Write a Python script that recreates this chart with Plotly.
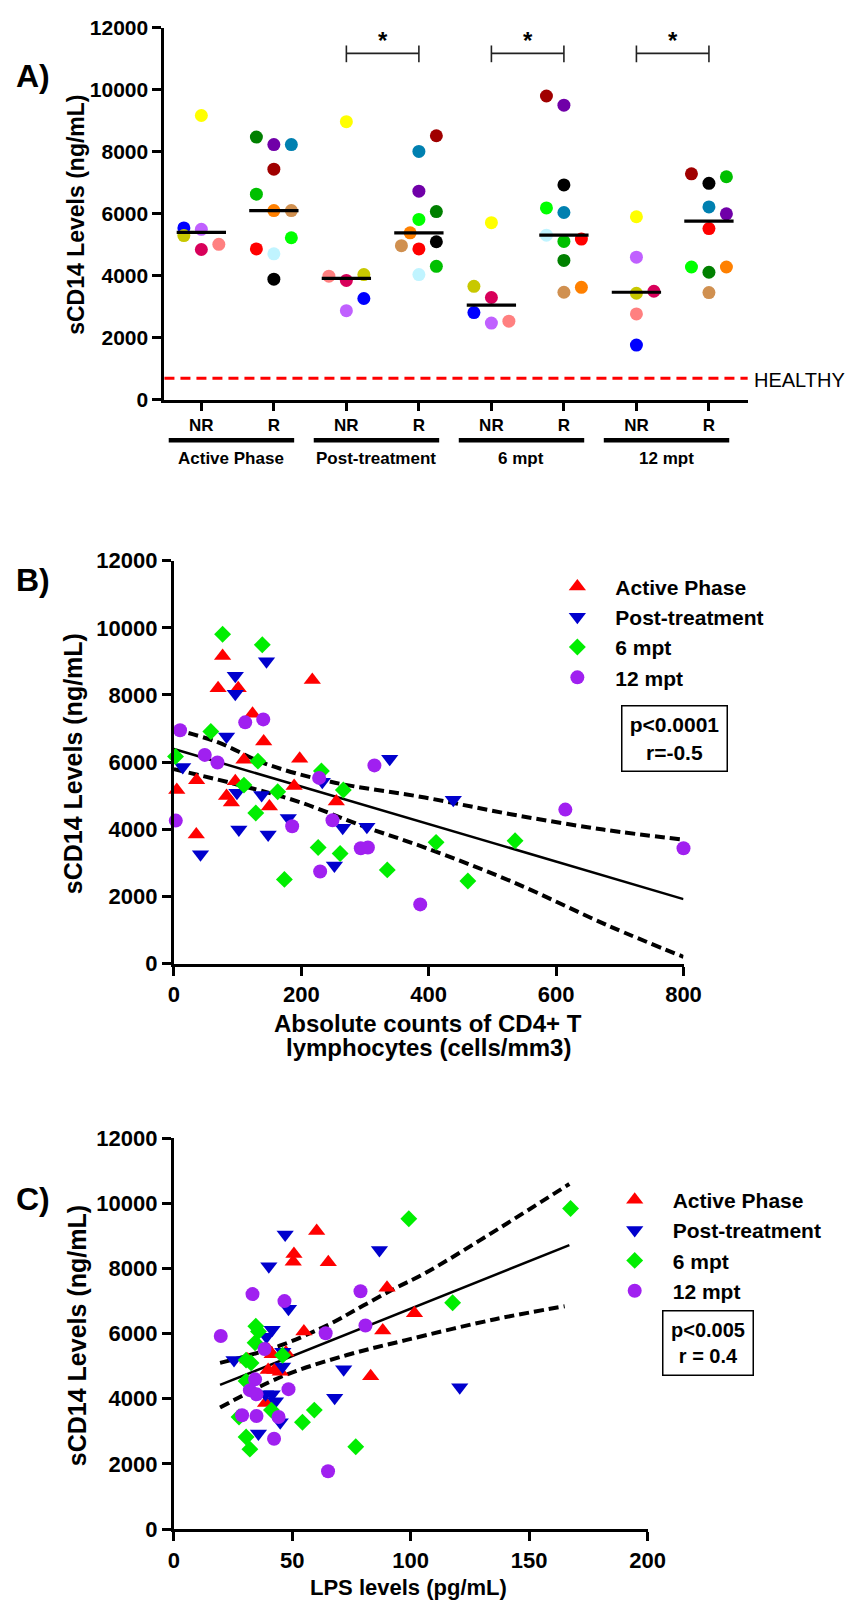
import plotly.graph_objects as go
import numpy as np

W, H = 858, 1616
FONT = "Liberation Sans, Arial, sans-serif"


def PX(x):
    return x / W


def PY(y):
    return 1 - y / H


# ---------------- Panel A data ----------------
groups = ["Active Phase", "Post-treatment", "6 mpt", "12 mpt"]
responses = ["NR", "R"]
healthy_level = 700
sig_pairs = [(2, 3), (4, 5), (6, 7)]

palette = {
    "yellow": "#ffff00", "blue": "#0000ff", "olive": "#c8c800", "lilac": "#c060ff",
    "crimson": "#d8005a", "salmon": "#ff8080", "dkgreen": "#008000", "purple": "#7000a8",
    "teal": "#0080b0", "dkred": "#a00000", "green": "#00c000", "lime": "#00ff00",
    "orange": "#ff8000", "tan": "#d09050", "red": "#ff0000", "ltcyan": "#c0f4ff",
    "black": "#000000",
}

active_nr_vals = [9170, 5545, 5300, 5500, 4850, 5015]
active_nr_cols = ["yellow", "blue", "olive", "lilac", "crimson", "salmon"]
active_nr_pos = [0, -1, -1, 0, 0, 1]

active_r_vals = [8476, 8233, 8233, 7440, 6635, 6106, 6106, 5228, 4868, 4709, 3894]
active_r_cols = ["dkgreen", "purple", "teal", "dkred", "green", "orange", "tan", "lime", "red", "ltcyan", "black"]
active_r_pos = [-1, 0, 1, 0, -1, 0, 1, 1, -1, 0, 0]

post_nr_vals = [8973, 3989, 3852, 4042, 3270, 2878]
post_nr_cols = ["yellow", "salmon", "crimson", "olive", "blue", "lilac"]
post_nr_pos = [0, -1, 0, 1, 1, 0]

post_r_vals = [8518, 8011, 6730, 6074, 5820, 5386, 4973, 4868, 5100, 4307, 4042]
post_r_cols = ["dkred", "teal", "purple", "dkgreen", "lime", "orange", "tan", "red", "black", "green", "ltcyan"]
post_r_pos = [1, 0, 0, 1, 0, -0.5, -1, 0, 1, 1, 0]

m6_nr_vals = [5714, 3661, 3302, 2815, 2476, 2540]
m6_nr_cols = ["yellow", "olive", "crimson", "blue", "lilac", "salmon"]
m6_nr_pos = [0, -1, 0, -1, 0, 1]

m6_r_vals = [9799, 9503, 6931, 6190, 6042, 5312, 5111, 5185, 4497, 3471, 3630]
m6_r_cols = ["dkred", "purple", "black", "lime", "teal", "ltcyan", "green", "red", "dkgreen", "tan", "orange"]
m6_r_pos = [-1, 0, 0, -1, 0, -1, 0, 1, 0, 0, 1]

m12_nr_vals = [5905, 4603, 3439, 3503, 2772, 1767]
m12_nr_cols = ["yellow", "lilac", "olive", "crimson", "salmon", "blue"]
m12_nr_pos = [0, 0, 0, 1, 0, 0]

m12_r_vals = [7291, 6984, 7196, 6222, 6000, 5524, 4286, 4116, 4286, 3460]
m12_r_cols = ["dkred", "black", "green", "teal", "purple", "red", "lime", "dkgreen", "orange", "tan"]
m12_r_pos = [-1, 0, 1, 0, 1, 0, -1, 0, 1, 0]

# ---------------- Panel B data ----------------
series_names = ["Active Phase", "Post-treatment", "6 mpt", "12 mpt"]

bx_active = [4.6, 35.7, 35.2, 69.4, 76.5, 101, 123.5, 141, 110, 96.4, 82.7, 90.3, 150, 197.5, 188.8, 217.3, 255]
by_active = [5168, 5462, 3847, 8202, 9162, 8202, 7439, 6617, 6069, 5432, 4992, 4796, 4679, 6098, 5286, 8447, 4826]
bx_post = [13.8, 41.8, 82.7, 96.4, 96.4, 102, 99, 137.8, 145.4, 148, 179.6, 233, 252, 265, 303, 338.8, 438.6]
by_post = [5853, 3259, 6764, 8574, 8036, 3993, 5090, 5021, 9005, 3847, 4336, 5413, 2917, 4042, 4072, 6098, 4879]
bx_6 = [2.6, 58, 76.5, 110, 128.6, 132, 138.8, 163, 173.5, 226.5, 231.6, 261, 266, 335, 411.6, 461.5, 535.6]
by_6 = [6166, 6910, 9808, 5315, 4483, 6029, 9494, 5119, 2506, 3455, 5736, 3279, 5168, 2790, 3610, 2457, 3657]
bx_12 = [9.7, 3, 48.5, 68.4, 112, 140.3, 185.7, 228, 229.6, 249, 293.4, 304.6, 314.8, 386.7, 614.5, 800]
by_12 = [6949, 4258, 6215, 5990, 7184, 7273, 4091, 5530, 2740, 4268, 3436, 3455, 5902, 1762, 4586, 3434]

fitB_x = [0, 800]
fitB_y = [6390, 1920]
bandB_up_x = [0, 67, 144, 246, 394, 531, 674, 800]
bandB_up_y = [6980, 6607, 5951, 5413, 4945, 4440, 3990, 3690]
bandB_lo_x = [0, 93, 195, 297, 394, 531, 684, 800]
bandB_lo_y = [5790, 5364, 4825, 4091, 3455, 2438, 1110, 200]

# ---------------- Panel C data ----------------
cx_active = [60.3, 50.7, 50.4, 65.2, 90, 101.6, 54.9, 88.2, 83.1, 41.5, 39.8, 42.6, 44.9, 47.3, 38.7, 31.2, 40]
cy_active = [9150, 8443, 8207, 8186, 7403, 6621, 6064, 6096, 4693, 5368, 4886, 4886, 4832, 5421, 3868, 5207, 5500]
cx_post = [47, 40.1, 86.8, 48.4, 41.5, 39.1, 25.4, 71.7, 67.9, 45.9, 38.7, 41.5, 42.9, 35.7, 44.9, 120.7, 46]
cy_post = [9043, 8068, 8561, 6760, 6118, 5904, 5186, 4907, 4028, 4993, 4136, 4136, 3921, 2936, 3278, 4350, 5440]
cx_6 = [99.2, 167.5, 117.7, 34.6, 35.7, 34.3, 30.5, 32.6, 45.9, 30.5, 41.2, 27.5, 59.3, 54.3, 30.5, 32.1, 76.8]
cy_6 = [9525, 9839, 6945, 6225, 6064, 5721, 5186, 5100, 5336, 4543, 3653, 3439, 3653, 3278, 2829, 2454, 2529]
cx_12 = [19.8, 33.2, 46.7, 78.8, 80.9, 64.1, 38.3, 34.3, 32.1, 34.9, 48.4, 28.8, 34.9, 44.2, 42.3, 65.1]
cy_12 = [5925, 7211, 6996, 7297, 6246, 6011, 5528, 4596, 4264, 4136, 4296, 3493, 3471, 3439, 2775, 1779]

fitC_x = [19.5, 167]
fitC_y = [4425, 8714]
bandC_up_x = [19.5, 30, 45.6, 66, 80, 93.7, 106, 129, 167]
bandC_up_y = [5100, 5300, 5650, 6300, 6860, 7400, 7850, 8852, 10590]
bandC_lo_x = [19.5, 45.6, 73.1, 97.9, 135.7, 165]
bandC_lo_y = [3729, 4683, 5342, 5798, 6441, 6839]

# ---------------- Build figure ----------------
fig = go.Figure()

panelA = [
    (active_nr_vals, active_nr_cols, active_nr_pos),
    (active_r_vals, active_r_cols, active_r_pos),
    (post_nr_vals, post_nr_cols, post_nr_pos),
    (post_r_vals, post_r_cols, post_r_pos),
    (m6_nr_vals, m6_nr_cols, m6_nr_pos),
    (m6_r_vals, m6_r_cols, m6_r_pos),
    (m12_nr_vals, m12_nr_cols, m12_nr_pos),
    (m12_r_vals, m12_r_cols, m12_r_pos),
]
JIT = 0.241
for i, (vals, cols, pos) in enumerate(panelA):
    fig.add_trace(go.Scatter(
        x=[i + p * JIT for p in pos], y=vals, mode="markers",
        marker=dict(size=13, color=[palette[c] for c in cols], line=dict(width=0)),
        xaxis="x", yaxis="y", showlegend=False, cliponaxis=False, hoverinfo="skip"))
for i, (vals, cols, pos) in enumerate(panelA):
    med = float(np.median(vals))
    fig.add_trace(go.Scatter(
        x=[i - 0.34, i + 0.34], y=[med, med], mode="lines",
        line=dict(color="black", width=3.2), xaxis="x", yaxis="y",
        showlegend=False, hoverinfo="skip"))

# healthy line
fig.add_shape(type="line", xref="x domain", yref="y", x0=0, x1=1,
              y0=healthy_level, y1=healthy_level,
              line=dict(color="#ff0000", width=3, dash="10px,6px"))
fig.add_annotation(x=PX(767), y=PY(374), xref="paper", yref="paper", text="HEALTHY",
                   showarrow=False, xanchor="left", yanchor="middle",
                   font=dict(family=FONT, size=20, color="black"))

# significance brackets
for a, b in sig_pairs:
    br = dict(color="#222222", width=1.6)
    fig.add_shape(type="line", xref="x", yref="paper", x0=a, x1=b, y0=PY(42), y1=PY(42), line=br)
    fig.add_shape(type="line", xref="x", yref="paper", x0=a, x1=a, y0=PY(34), y1=PY(51), line=br)
    fig.add_shape(type="line", xref="x", yref="paper", x0=b, x1=b, y0=PY(34), y1=PY(51), line=br)
    fig.add_annotation(x=(a + b) / 2, y=PY(29), xref="x", yref="paper", text="*",
                       showarrow=False, yanchor="middle",
                       font=dict(family=FONT, size=24, color="black", weight="bold"))

# group bars and labels
for g, name in enumerate(groups):
    x0, x1 = 2 * g - 0.45, 2 * g + 1.28
    fig.add_shape(type="line", xref="x", yref="paper", x0=x0, x1=x1, y0=PY(435), y1=PY(435),
                  line=dict(color="black", width=4.5))
    fig.add_annotation(x=(x0 + x1) / 2, y=PY(454), xref="x", yref="paper", text=name,
                       showarrow=False, yanchor="middle",
                       font=dict(family=FONT, size=17, color="black", weight="bold"))

# ---------- Panel B & C scatter ----------
sym = ["triangle-up", "triangle-down", "diamond", "circle"]
colsBC = ["#ff0000", "#0000cd", "#00ee00", "#a020f0"]
sizesB = [15, 15, 13, 14]
sizesC = [15, 15, 13, 14]

B_sets = [(bx_active, by_active), (bx_post, by_post), (bx_6, by_6), (bx_12, by_12)]
C_sets = [(cx_active, cy_active), (cx_post, cy_post), (cx_6, cy_6), (cx_12, cy_12)]

dash = "10px,5px"
for (fx, fy, ux, uy, lx, ly, xa, ya) in [
        (fitB_x, fitB_y, bandB_up_x, bandB_up_y, bandB_lo_x, bandB_lo_y, "x2", "y2"),
        (fitC_x, fitC_y, bandC_up_x, bandC_up_y, bandC_lo_x, bandC_lo_y, "x3", "y3")]:
    fig.add_trace(go.Scatter(x=fx, y=fy, mode="lines", line=dict(color="black", width=2.5),
                             xaxis=xa, yaxis=ya, showlegend=False, hoverinfo="skip"))
    fig.add_trace(go.Scatter(x=ux, y=uy, mode="lines",
                             line=dict(color="black", width=4, dash=dash, shape="spline"),
                             xaxis=xa, yaxis=ya, showlegend=False, hoverinfo="skip"))
    fig.add_trace(go.Scatter(x=lx, y=ly, mode="lines",
                             line=dict(color="black", width=4, dash=dash, shape="spline"),
                             xaxis=xa, yaxis=ya, showlegend=False, hoverinfo="skip"))

for k in range(4):
    fig.add_trace(go.Scatter(
        x=B_sets[k][0], y=B_sets[k][1], mode="markers", name=series_names[k],
        marker=dict(symbol=sym[k], size=sizesB[k], color=colsBC[k], line=dict(width=0)),
        xaxis="x2", yaxis="y2", legend="legend", cliponaxis=False, hoverinfo="skip"))
for k in range(4):
    fig.add_trace(go.Scatter(
        x=C_sets[k][0], y=C_sets[k][1], mode="markers", name=series_names[k],
        marker=dict(symbol=sym[k], size=sizesC[k], color=colsBC[k], line=dict(width=0)),
        xaxis="x3", yaxis="y3", legend="legend2", cliponaxis=False, hoverinfo="skip"))

# ---------- Axes ----------
def axis(size=22, **kw):
    base = dict(showline=True, linewidth=3, linecolor="black", ticks="outside", ticklen=9,
                tickwidth=3, tickcolor="black", showgrid=False, zeroline=False,
                tickformat="d",
                tickfont=dict(family=FONT, size=size, color="black", weight="bold"))
    base.update(kw)
    return base

fig.update_layout(
    width=W, height=H, margin=dict(l=0, r=0, t=0, b=0),
    paper_bgcolor="white", plot_bgcolor="white",
    font=dict(family=FONT, color="black"),
    xaxis=axis(size=17, domain=[PX(163), PX(763)], range=[-0.509, 7.534], tickvals=list(range(8)),
               ticktext=responses * 4, anchor="y", ticklen=8),
    yaxis=axis(size=21, domain=[PY(394), PY(16)], range=[0, 12000], dtick=2000, anchor="x"),
    xaxis2=axis(domain=[PX(172.7), PX(697)], range=[0, 800], dtick=200, anchor="y2"),
    yaxis2=axis(domain=[PY(966.5), PY(557.3)], range=[0, 12000], dtick=2000, anchor="x2"),
    xaxis3=axis(domain=[PX(172.7), PX(660)], range=[0, 200], dtick=50, anchor="y3"),
    yaxis3=axis(domain=[PY(1541), PY(1143.7)], range=[0, 12000], dtick=2000, anchor="x3"),
    legend=dict(x=PX(548.7), y=PY(563), xanchor="left", yanchor="top", itemwidth=66,
                bgcolor="rgba(0,0,0,0)", font=dict(family=FONT, size=21, color="black", weight="bold")),
    legend2=dict(x=PX(607.7), y=PY(1186), xanchor="left", yanchor="top", itemwidth=66,
                 bgcolor="rgba(0,0,0,0)", font=dict(family=FONT, size=21, color="black", weight="bold")),
)

# ---------- Text annotations ----------
def ann(x, y, text, size, angle=0, bold=True, **kw):
    f = dict(family=FONT, size=size, color="black")
    if bold:
        f["weight"] = "bold"
    fig.add_annotation(x=PX(x), y=PY(y), xref="paper", yref="paper", text=text, showarrow=False,
                       textangle=angle, font=f, xanchor="center", yanchor="middle", **kw)

ann(28, 65, "A)", 32)
ann(28, 577, "B)", 32)
ann(28, 1206, "C)", 32)

ann(72, 206, "sCD14 Levels (ng/mL)", 23, angle=-90)
ann(69, 764, "sCD14 Levels (ng/mL)", 25, angle=-90)
ann(73, 1344, "sCD14 Levels (ng/mL)", 25, angle=-90)

ann(434.5, 1027, "Absolute counts of CD4+ T", 24)
ann(434.5, 1052, "lymphocytes (cells/mm3)", 24)
ann(414, 1600, "LPS levels (pg/mL)", 22)

fig.add_annotation(x=PX(687.5), y=PY(738.4), xref="paper", yref="paper", text="p<0.0001<br>r=-0.5",
                   showarrow=False, xanchor="center", yanchor="middle", width=100, height=60,
                   borderpad=2, bordercolor="black", borderwidth=1.5, align="center",
                   font=dict(family=FONT, size=21, color="black", weight="bold"))
fig.add_annotation(x=PX(722), y=PY(1352), xref="paper", yref="paper", text="p<0.005<br>r = 0.4",
                   showarrow=False, xanchor="center", yanchor="middle", width=85, height=59,
                   borderpad=2, bordercolor="black", borderwidth=1.5, align="center",
                   font=dict(family=FONT, size=20, color="black", weight="bold"))

fig.write_html("out.html")
